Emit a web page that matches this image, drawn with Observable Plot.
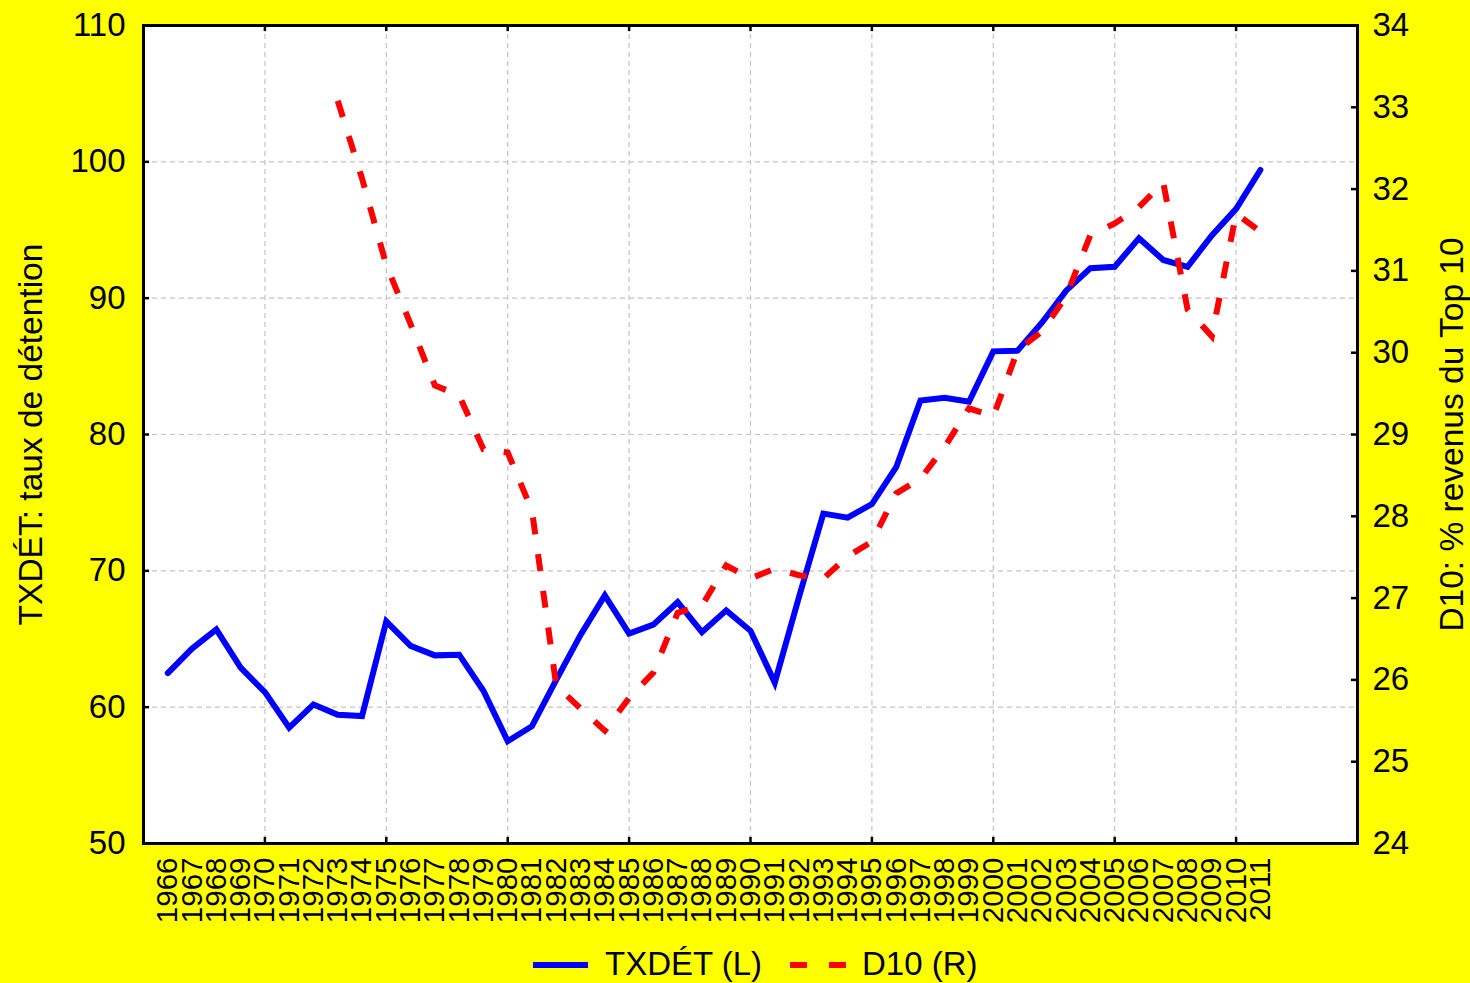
<!DOCTYPE html>
<html><head><meta charset="utf-8">
<script src="https://cdn.jsdelivr.net/npm/d3@7"></script>
<script src="https://cdn.jsdelivr.net/npm/@observablehq/plot@0.6"></script>
<style>
html,body{margin:0;padding:0;background:#ffff00;}
#chart{position:relative;width:1470px;height:983px;overflow:hidden;background:#ffff00;font-family:"Liberation Sans",Arial,sans-serif;}
#chart svg{display:block;}
#legend{position:absolute;left:0;top:935px;width:1470px;height:48px;font-size:33px;color:#000;}
.sw{position:absolute;top:27px;height:6px;}
.lt{position:absolute;top:11px;line-height:36px;white-space:nowrap;}
</style></head><body><div id="chart"><div id="legend"></div></div>
<script>
const years = [1966,1967,1968,1969,1970,1971,1972,1973,1974,1975,1976,1977,1978,1979,1980,1981,1982,1983,1984,1985,1986,1987,1988,1989,1990,1991,1992,1993,1994,1995,1996,1997,1998,1999,2000,2001,2002,2003,2004,2005,2006,2007,2008,2009,2010,2011];
const txdetValues = [62.5,64.3,65.7,62.9,61.1,58.5,60.2,59.45,59.35,66.3,64.5,63.8,63.85,61.2,57.5,58.6,62.0,65.3,68.2,65.4,66.05,67.7,65.5,67.1,65.6,61.8,68.1,74.2,73.9,74.9,77.6,82.5,82.7,82.4,86.1,86.15,88.2,90.55,92.2,92.3,94.4,92.8,92.3,94.6,96.55,99.4];
const d10Years = [1973,1974,1975,1976,1977,1978,1979,1980,1981,1982,1983,1984,1985,1986,1987,1988,1989,1990,1991,1992,1993,1994,1995,1996,1997,1998,1999,2000,2001,2002,2003,2004,2005,2006,2007,2008,2009,2010,2011];
const d10Values = [33.08,32.13,31.07,30.35,29.6,29.48,28.82,28.78,28.07,25.93,25.65,25.38,25.78,26.09,26.82,26.91,27.40,27.24,27.36,27.28,27.24,27.51,27.69,28.28,28.46,28.85,29.32,29.22,30.03,30.26,30.69,31.44,31.58,31.78,32.08,30.53,30.20,31.70,31.48];
const leftTicks = [50,60,70,80,90,100,110];
const rightTicks = [24,25,26,27,28,29,30,31,32,33,34];
const gridYears = [1970,1975,1980,1985,1990,1995,2000,2005,2010];
const leftLabel = "TXDÉT: taux de détention";
const rightLabel = "D10: % revenus du Top 10";
const legendItems = [{label:"TXDÉT (L)", color:"#0000ff", dashed:false},{label:"D10 (R)", color:"#ff0000", dashed:true}];

// map right-axis values (24..34) onto left-axis scale (50..110)
const toLeft = d => 50 + (d - 24) * 6;
const txdet = years.map((y,i) => ({year:y, v:txdetValues[i]}));
const d10 = d10Years.map((y,i) => ({year:y, v:toLeft(d10Values[i])}));

const font = "Liberation Sans, Arial, sans-serif";
const plot = Plot.plot({
  width:1470, height:935,
  marginLeft:143, marginRight:113, marginTop:25, marginBottom:92,
  style:{background:"#ffff00", fontFamily:font, fontSize:"33px", color:"black"},
  x:{domain:[1965,2015], label:null},
  y:{domain:[50,110], label:null},
  marks:[
    Plot.frame({fill:"white", stroke:null}),
    Plot.gridX(gridYears, {stroke:"#c4c4c4", strokeOpacity:1, strokeWidth:1.2, strokeDasharray:"5,4"}),
    Plot.gridY(leftTicks.slice(1,-1), {stroke:"#c4c4c4", strokeOpacity:1, strokeWidth:1.2, strokeDasharray:"5,4"}),
    Plot.line(txdet, {x:"year", y:"v", stroke:"#0000ff", strokeWidth:6, strokeLinejoin:"miter", strokeMiterlimit:4}),
    Plot.line(d10, {x:"year", y:"v", stroke:"#ff0000", strokeWidth:6, strokeDasharray:"17,20", strokeLinecap:"butt", strokeLinejoin:"miter", strokeMiterlimit:4}),
    Plot.ruleX(gridYears, {y1:50, y2:50.45, stroke:"black", strokeWidth:2.5}),
    Plot.ruleX(gridYears, {y1:109.55, y2:110, stroke:"black", strokeWidth:2.5}),
    Plot.ruleY(leftTicks, {x1:1965, x2:1965.25, stroke:"black", strokeWidth:2.5}),
    Plot.ruleY(rightTicks.map(toLeft), {x1:2014.75, x2:2015, stroke:"black", strokeWidth:2.5}),
    Plot.frame({stroke:"black", strokeWidth:3}),
    Plot.axisY(leftTicks, {anchor:"left", tickSize:0, tickPadding:18, fontSize:33, label:null}),
    Plot.axisY(rightTicks.map(toLeft), {anchor:"right", tickSize:0, tickPadding:15, fontSize:33, label:null,
      tickFormat: v => String(Math.round((v - 50) / 6 + 24))}),
    Plot.axisX(years, {anchor:"bottom", tickSize:0, tickPadding:14, tickRotate:-90, fontSize:29.5, label:null,
      tickFormat: d => String(d)}),
    Plot.text([leftLabel], {frameAnchor:"left", dx:-112, rotate:-90, textAnchor:"middle", fontSize:33.5, fill:"black"}),
    Plot.text([rightLabel], {frameAnchor:"right", dx:95, rotate:-90, textAnchor:"middle", fontSize:33.5, fill:"black"})
  ]
});
const chart = document.getElementById("chart");
chart.insertBefore(plot, chart.firstChild);

const legend = document.getElementById("legend");
const pos = [{sw:533, w:55, tx:605},{sw:790, w:56, tx:862}];
legendItems.forEach((it,i) => {
  const s = document.createElement("div");
  s.className = "sw";
  s.style.left = pos[i].sw + "px";
  s.style.width = pos[i].w + "px";
  s.style.background = it.dashed
    ? `repeating-linear-gradient(90deg, ${it.color} 0 17px, transparent 17px 39px)`
    : it.color;
  legend.appendChild(s);
  const t = document.createElement("div");
  t.className = "lt";
  t.style.left = pos[i].tx + "px";
  t.textContent = it.label;
  legend.appendChild(t);
});
</script>
</body></html>
